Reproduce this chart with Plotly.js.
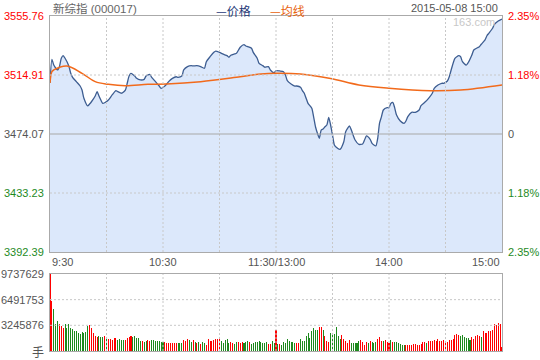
<!DOCTYPE html>
<html><head><meta charset="utf-8">
<script src="https://cdn.plot.ly/plotly-3.0.1.min.js"></script>
<style>html,body{margin:0;padding:0;background:#fff}#chart{width:540px;height:360px}</style>
</head><body><div id="chart"></div>
<script>
const prevClose = 3474.07;
const priceMinute = [0,1,2,4,5,6,7,8,10,11,12,14,16,17,18,20,21,22,24,25,26,27,28,29,31,33,35,36,38,40,41,42,43,45,46,48,50,51,53,54,56,58,59,61,62,63,65,67,68,70,71,73,75,76,78,80,82,83,85,87,88,90,92,94,95,96,98,99,101,103,104,105,107,108,110,111,113,114,116,117,119,120,122,124,125,126,128,130,131,133,134,135,136,137,139,140,141,142,143,144,145,146,147,148,149,150,151,152,154,156,157,159,160,162,164,166,167,168,170,171,173,174,175,176,177,179,180,181,182,183,184,186,188,189,190,192,194,196,197,199,201,203,204,206,208,209,211,212,213,215,217,218,219,221,222,224,225,227,228,229,231,232,233,235,236,238,240];
const priceValue = [3509.4,3525.8,3521.8,3518.4,3520.7,3526.5,3528.3,3526.5,3521.2,3516.1,3513.3,3510.3,3507.3,3504.5,3498.8,3493.5,3494.8,3496.4,3500.4,3503.4,3500.4,3497.6,3495.3,3495.7,3497.6,3501.1,3504.1,3503.4,3502.3,3504.5,3509.2,3514.2,3516.1,3514.2,3512.6,3511.5,3511.9,3514.2,3515.4,3513.3,3510.3,3507.3,3505.7,3507.3,3508.7,3510.3,3512.6,3513.7,3513.3,3514.2,3518.4,3520.7,3521.4,3521.2,3521.4,3520.7,3519.6,3524.1,3527.6,3530.6,3531.5,3530.6,3529.3,3528.3,3527.2,3528.6,3529.5,3529.9,3534.1,3535.9,3535.0,3534.5,3533.4,3530.4,3526.5,3523.0,3521.4,3520.3,3520.7,3518.4,3516.5,3517.9,3517.7,3517.2,3514.9,3511.0,3508.7,3507.3,3507.3,3506.4,3504.1,3502.3,3498.8,3495.3,3491.9,3485.8,3478.9,3474.6,3471.1,3476.8,3477.5,3479.1,3480.3,3485.6,3480.3,3473.4,3466.5,3464.9,3463.5,3468.7,3475.7,3479.6,3476.8,3469.9,3466.9,3467.2,3469.9,3472.7,3470.4,3467.6,3465.8,3471.1,3481.7,3486.1,3490.7,3492.3,3492.3,3495.3,3496.0,3492.3,3487.2,3483.1,3481.5,3483.1,3486.1,3489.1,3489.1,3490.7,3493.7,3496.0,3498.8,3502.3,3505.7,3508.0,3509.2,3509.2,3510.8,3513.7,3518.4,3526.5,3528.3,3527.6,3524.1,3521.8,3523.4,3528.8,3532.2,3533.8,3534.5,3536.2,3539.2,3542.1,3543.8,3547.3,3550.0,3552.3,3553.7];
const avgMinute = [0,1,2,9,17,24,31,40,52,62,80,101,112,120,133,149,164,180,202,218,240];
const avgValue = [3509.4,3517.2,3518.4,3521.2,3516.1,3510.3,3508.5,3507.5,3508.5,3508.7,3510.3,3513.7,3515.6,3516.1,3515.6,3512.5,3508.0,3505.7,3504.0,3504.5,3508.0];
const volumeWan = [
973.76,637.8,535.8,344.4,382.7,344.4,318.9,293.4,344.4,293.4,
344.4,293.4,280.6,255.1,255.1,229.6,216.9,242.4,229.6,242.4,
318.9,331.7,293.4,229.6,191.4,178.6,191.4,178.6,178.6,191.4,
178.6,153.1,153.1,140.3,165.8,165.8,140.3,153.1,140.3,140.3,
140.3,165.8,178.6,191.4,178.6,191.4,165.8,165.8,127.6,127.6,
118,127.6,140.3,127.6,140.3,140.3,127.6,127.6,127.6,114.8,
114.8,114.8,102.1,102.1,102.1,102.1,102.1,102.1,102.1,102.1,
102.1,140.3,127.6,153.1,140.3,114.8,140.3,114.8,102.1,114.8,
89.3,114.8,102.1,76.5,153.1,127.6,127.6,140.3,153.1,153.1,
153.1,127.6,102.1,140.3,153.1,102.1,114.8,102.1,89.3,114.8,
114.8,102.1,114.8,102.1,114.8,127.6,114.8,89.3,102.1,114.8,
114.8,127.6,114.8,102.1,102.1,114.8,89.3,89.3,127.6,102.1,
267.9,
89.3,89.3,76.5,114.8,102.1,153.1,127.6,114.8,114.8,102.1,
102.1,102.1,153.1,127.6,127.6,191.4,229.6,165.8,255.1,293.4,
267.9,267.9,306.2,306.2,267.9,191.4,127.6,114.8,229.6,204.1,
216.9,306.2,191.4,153.1,204.1,153.1,127.6,102.1,140.3,102.1,
102.1,102.1,102.1,127.6,140.3,114.8,76.5,114.8,102.1,127.6,
114.8,102.1,114.8,153.1,178.6,127.6,127.6,140.3,114.8,102.1,
140.3,114.8,114.8,114.8,102.1,89.3,76.5,76.5,76.5,76.5,
76.5,76.5,89.3,89.3,76.5,76.5,89.3,114.8,114.8,102.1,
127.6,127.6,127.6,140.3,127.6,153.1,127.6,127.6,140.3,127.6,
114.8,140.3,140.3,153.1,204.1,216.9,204.1,191.4,204.1,178.6,
165.8,165.8,140.3,178.6,153.1,191.4,204.1,191.4,178.6,255.1,
229.6,229.6,255.1,255.1,267.9,344.4,331.7,357.2,344.4,46.8];
const volumeDir = ("rrgggrrrgg"+"gggggggggg"+"grrrrrgggr"+"grrrrrgggg"+"rrrrgggggr"+"ggrrgggggg"+"grrrrrrrgg"+"grrrggrgrg"+"rggrrrrrrr"+"rgggggrrgg"+"rrrgggrggg"+"ggggggrrgg"+"r"+
  "grgggggggg"+"rrgggggggg"+"ggrrgrrrgg"+"ggggrrrrrg"+"ggggrrrrgr"+"gggrrrgrrr"+"grggggggrr"+"rrrrrrrrrg"+"rrrrrrrrrr"+"rrrrrrrggg"+"gggrrrrrgr"+"rrrrrrrrrr").split("");
const leftTicks = [3555.76, 3514.91, 3474.07, 3433.23, 3392.39];
const rightTicks = ["2.35%", "1.18%", "0", "1.18%", "2.35%"];
const volTicks = [9737629, 6491753, 3245876];
const volMax = 9737629;
const timeMinutes = [0, 60, 120, 180, 240];
const timeLabels = ["9:30", "10:30", "11:30/13:00", "14:00", "15:00"];
const gridMinutes = [30, 60, 90, 120, 150, 180, 210];
const titleText = "新综指 (000017)";
const dateText = "2015-05-08 15:00";

const RED = "#ff0000", GREEN = "#1e8a1e", GRAYTXT = "#555555";
const FONT = "Liberation Sans, Arial, Noto Sans CJK SC, sans-serif";
const CJK = "Noto Sans CJK SC, sans-serif";
const volMinute = volumeWan.map((v, i) => i);
const volValue = volumeWan.map(v => v * 10000);
const volColor = volumeDir.map(d => d === "r" ? RED : GREEN);

const traces = [
  {x: priceMinute, y: priceValue, type: "scatter", mode: "lines", fill: "tozeroy",
   fillcolor: "#dce8fb", line: {color: "#3d5d91", width: 1.3, shape: "spline", smoothing: 0.6},
   xaxis: "x", yaxis: "y", hoverinfo: "skip"},
  {x: avgMinute, y: avgValue, type: "scatter", mode: "lines",
   line: {color: "#f26a1b", width: 1.5, shape: "spline", smoothing: 1},
   xaxis: "x", yaxis: "y", hoverinfo: "skip"},
  {x: volMinute, y: volValue, type: "bar", marker: {color: volColor, line: {width: 0}},
   width: 0.55, xaxis: "x2", yaxis: "y2", hoverinfo: "skip"}
];

const shapes = [];
const gdash = "2px,2px";
gridMinutes.forEach(m => {
  shapes.push({type: "line", xref: "x", yref: "y domain", x0: m, x1: m, y0: 0, y1: 1,
    line: {color: "#c8c8c8", width: 1, dash: gdash}, layer: "above"});
  shapes.push({type: "line", xref: "x2", yref: "y2 domain", x0: m, x1: m, y0: 0, y1: 1,
    line: {color: "#c8c8c8", width: 1, dash: gdash}, layer: "above"});
});
[leftTicks[1], leftTicks[3]].forEach(v => shapes.push({type: "line", xref: "x domain", yref: "y",
  x0: 0, x1: 1, y0: v, y1: v, line: {color: "#c8c8c8", width: 1, dash: gdash}, layer: "above"}));
shapes.push({type: "line", xref: "x domain", yref: "y", x0: 0, x1: 1, y0: prevClose, y1: prevClose,
  line: {color: "#a8a8a8", width: 1.2}, layer: "above"});
[volTicks[1], volTicks[2]].forEach(v => shapes.push({type: "line", xref: "x2 domain", yref: "y2",
  x0: 0, x1: 1, y0: v, y1: v, line: {color: "#c8c8c8", width: 1, dash: gdash}, layer: "above"}));

const ann = [];
const leftColors = [RED, RED, GRAYTXT, GREEN, GREEN];
leftTicks.forEach((v, k) => {
  ann.push({xref: "paper", yref: "y", x: -0.009, y: v, xanchor: "right", yanchor: "middle",
    text: v.toFixed(2), showarrow: false, font: {family: FONT, size: 11, color: leftColors[k]}});
  ann.push({xref: "paper", yref: "y", x: 1.009, y: v, xanchor: "left", yanchor: "middle",
    text: rightTicks[k], showarrow: false, font: {family: FONT, size: 11, color: leftColors[k]}});
});
volTicks.forEach(v => ann.push({xref: "paper", yref: "y2", x: -0.009, y: v, xanchor: "right", yanchor: "middle",
  text: String(v), showarrow: false, font: {family: FONT, size: 11, color: GRAYTXT}}));
ann.push({xref: "paper", yref: "y2", x: -0.009, y: 0, xanchor: "right", yanchor: "middle",
  text: "手", showarrow: false, font: {family: CJK, size: 12, color: GRAYTXT}});
const tAnchor = ["left", "center", "center", "center", "right"];
timeMinutes.forEach((m, k) => ann.push({xref: "x", yref: "paper", x: m, y: 0.2657, xanchor: tAnchor[k],
  yanchor: "middle", text: timeLabels[k], showarrow: false, font: {family: FONT, size: 11, color: GRAYTXT}}));
const topY = 1.0478;
ann.push({xref: "paper", yref: "paper", x: 0.002, y: topY, xanchor: "left", yanchor: "top",
  text: titleText, showarrow: false, font: {family: FONT, size: 11.5, color: "#666666"}});
ann.push({xref: "paper", yref: "paper", x: 0.362, y: topY, xanchor: "left", yanchor: "top",
  text: "—价格", showarrow: false, font: {family: CJK, size: 12, color: "#1f3a78"}});
ann.push({xref: "paper", yref: "paper", x: 0.483, y: topY, xanchor: "left", yanchor: "top",
  text: "—均线", showarrow: false, font: {family: CJK, size: 12, color: "#e8620c"}});
ann.push({xref: "paper", yref: "paper", x: 0.996, y: topY, xanchor: "right", yanchor: "top",
  text: dateText, showarrow: false, font: {family: FONT, size: 11, color: GRAYTXT}});
ann.push({xref: "paper", yref: "paper", x: 0.989, y: 0.982, xanchor: "right", yanchor: "middle",
  text: "163.com", showarrow: false, font: {family: FONT, size: 11, color: "#c8c8c8"}});

const axBase = {range: [0, 240], showgrid: false, zeroline: false, showticklabels: false, ticks: "",
  showline: true, mirror: true, linecolor: "#aaaaaa", linewidth: 1, fixedrange: true};
const layout = {
  width: 540, height: 360, margin: {l: 50, r: 38, t: 16, b: 9},
  paper_bgcolor: "#ffffff", plot_bgcolor: "#ffffff", showlegend: false, bargap: 0,
  xaxis: Object.assign({}, axBase, {anchor: "y"}),
  yaxis: {domain: [0.2955, 1], range: [leftTicks[4], leftTicks[0]], showgrid: false, zeroline: false,
    showticklabels: false, ticks: "", showline: true, mirror: true, linecolor: "#aaaaaa", linewidth: 1, fixedrange: true},
  xaxis2: Object.assign({}, axBase, {anchor: "y2"}),
  yaxis2: {domain: [0, 0.2299], range: [0, volMax], showgrid: false, zeroline: false, showticklabels: false,
    ticks: "", showline: true, mirror: true, linecolor: "#aaaaaa", linewidth: 1, fixedrange: true, anchor: "x2"},
  shapes: shapes, annotations: ann
};
Plotly.newPlot("chart", traces, layout, {staticPlot: true, displayModeBar: false});
</script></body></html>
